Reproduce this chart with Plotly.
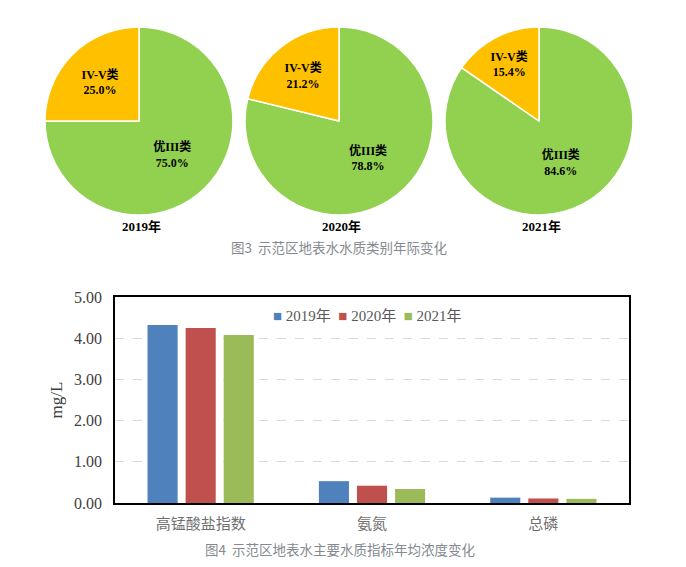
import plotly.graph_objects as go

W, H = 686, 567

# Pie data
pie_years = ["2019年", "2020年", "2021年"]
pie_labels = ["优III类", "IV-V类"]
pie_values = [[75.0, 25.0], [78.8, 21.2], [84.6, 15.4]]
pie_colors = ["#92D050", "#FFC000"]

# Bar data
categories = ["高锰酸盐指数", "氨氮", "总磷"]
bar_years = ["2019年", "2020年", "2021年"]
bar_values = [
    [4.32, 0.53, 0.13],
    [4.25, 0.42, 0.11],
    [4.08, 0.34, 0.10],
]
bar_colors = ["#4F81BD", "#C0504D", "#9BBB59"]
y_ticks = [0, 1, 2, 3, 4, 5]

serif = "Times New Roman, Liberation Serif, Noto Sans CJK SC, serif"
cjk = "Microsoft YaHei, Noto Sans CJK SC, sans-serif"

fig = go.Figure()

pie_centers_x = [139, 339, 539]
pie_cy = 121
pie_r = 94
for i, (yr, vals) in enumerate(zip(pie_years, pie_values)):
    cx = pie_centers_x[i]
    fig.add_trace(go.Pie(
        labels=pie_labels,
        values=vals,
        sort=False,
        direction="clockwise",
        rotation=0,
        marker=dict(colors=pie_colors, line=dict(color="white", width=1.5)),
        texttemplate="%{label}<br>%{value:.1f}%",
        textposition="inside",
        insidetextorientation="horizontal",
        textfont=dict(family=serif, size=12, color="black", weight="bold"),
        hoverinfo="label+value",
        showlegend=False,
        domain=dict(x=[(cx - pie_r) / W, (cx + pie_r) / W],
                    y=[1 - (pie_cy + pie_r) / H, 1 - (pie_cy - pie_r) / H]),
    ))
    fig.add_annotation(
        text=f"<b>{yr}</b>", x=(cx + 2) / W, y=1 - 226 / H,
        xref="paper", yref="paper", showarrow=False,
        xanchor="center", yanchor="middle",
        font=dict(family=serif, size=13, color="black"),
    )

for yr, vals, col in zip(bar_years, bar_values, bar_colors):
    fig.add_trace(go.Bar(
        x=categories, y=vals, name=yr,
        marker=dict(color=col, line=dict(width=0)),
        showlegend=False,
    ))

# compact legend as text (Excel-style small squares)
legend_text = "&nbsp;&nbsp;".join(
    f"<span style='color:{c}'>■</span> {y}" for y, c in zip(bar_years, bar_colors)
)
fig.add_annotation(
    text=legend_text, x=367 / W, y=1 - 316 / H,
    xref="paper", yref="paper", showarrow=False,
    xanchor="center", yanchor="middle",
    font=dict(family=serif, size=15, color="#595959"),
)

fig.update_layout(
    width=W, height=H,
    margin=dict(l=0, r=0, t=0, b=0),
    paper_bgcolor="white",
    plot_bgcolor="white",
    barmode="group",
    bargap=0.333,
    bargroupgap=0.21,
    showlegend=False,
    xaxis=dict(
        domain=[115 / W, 629 / W],
        anchor="y",
        automargin=False,
        showline=True, linecolor="black", linewidth=1.5, mirror=True,
        tickfont=dict(family=cjk, size=15, color="#707070"),
        ticks="",
        ticklabelstandoff=6,
        showgrid=False,
    ),
    yaxis=dict(
        domain=[1 - 503 / H, 1 - 297 / H],
        anchor="x",
        automargin=False,
        range=[0, 5],
        tickvals=y_ticks,
        ticktext=[f"{v:.2f}" for v in y_ticks],
        tickfont=dict(family=serif, size=16, color="#404040"),
        ticklabelstandoff=8,
        showline=True, linecolor="black", linewidth=1.5, mirror=True,
        showgrid=True, gridcolor="#d9d9d9", griddash="dash", gridwidth=1,
        zeroline=False,
        ticks="", ticklen=0,
        title=dict(text="mg/L", font=dict(family=serif, size=17, color="#404040"), standoff=7),
    ),
)

fig.add_annotation(
    text="图3  示范区地表水水质类别年际变化", x=339 / W, y=1 - 247 / H,
    xref="paper", yref="paper", showarrow=False,
    xanchor="center", yanchor="middle",
    font=dict(family=cjk, size=13.5, color="#858a90"),
)
fig.add_annotation(
    text="图4  示范区地表水主要水质指标年均浓度变化", x=340 / W, y=1 - 549 / H,
    xref="paper", yref="paper", showarrow=False,
    xanchor="center", yanchor="middle",
    font=dict(family=cjk, size=13.5, color="#858a90"),
)

fig.write_html("out.html")
